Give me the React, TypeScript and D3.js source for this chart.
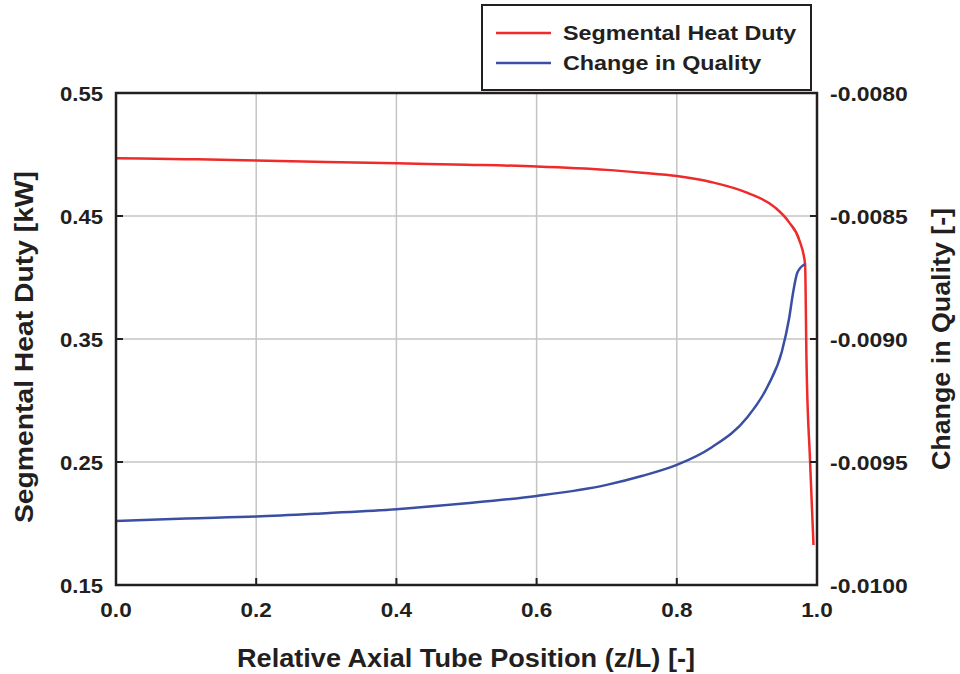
import React from "react";
import * as d3 from "d3";

const xTicks = [0, 0.2, 0.4, 0.6, 0.8, 1.0];
const yLeftTicks = [0.15, 0.25, 0.35, 0.45, 0.55];
const yRightTicks = [-0.01, -0.0095, -0.009, -0.0085, -0.008];

const heatX = [0, 0.1, 0.2, 0.3, 0.4, 0.5, 0.6, 0.7, 0.75, 0.8, 0.85, 0.9, 0.94, 0.96, 0.975, 0.983, 0.985, 0.99, 0.995];
const heatY = [0.497, 0.4962, 0.4952, 0.494, 0.4928, 0.4917, 0.4903, 0.4875, 0.4852, 0.4825, 0.4775, 0.469, 0.457, 0.445, 0.43, 0.411, 0.333, 0.252, 0.1825];

const qualX = [0, 0.1, 0.2, 0.3, 0.4, 0.5, 0.6, 0.7, 0.75, 0.8, 0.85, 0.9, 0.93, 0.95, 0.96, 0.966, 0.972, 0.983];
const qualY = [-0.00974, -0.00973, -0.009722, -0.009708, -0.009692, -0.009668, -0.009638, -0.009593, -0.009557, -0.009512, -0.00944, -0.00932, -0.00919, -0.00905, -0.00892, -0.00881, -0.00873, -0.008695];

const seriesNames = ["Segmental Heat Duty", "Change in Quality"];
const seriesColors = ["#ee2a2a", "#3a4fa3"];

const L = 116, R = 817, T = 93, B = 585;
const FONT = "'Liberation Sans', Arial, sans-serif";
const TXT = "#231f20";

function T2({ x, y, sx, size, anchor, children }: { x: number; y: number; sx: number; size: number; anchor: string; children: React.ReactNode }) {
  return (
    <text transform={`translate(${x},${y}) scale(${sx},1)`} textAnchor={anchor} fontSize={size} fontWeight="bold" fill={TXT}>
      {children}
    </text>
  );
}

export default function App() {
  const x = d3.scaleLinear().domain([0, 1]).range([L, R]);
  const yL = d3.scaleLinear().domain([0.15, 0.55]).range([B, T]);
  const yR = d3.scaleLinear().domain([-0.01, -0.008]).range([B, T]);

  const heatLine = d3.line<number>()
    .x((_, i) => x(heatX[i]))
    .y((v) => yL(v))
    .curve(d3.curveMonotoneX);
  const qualLine = d3.line<number>()
    .x((_, i) => x(qualX[i]))
    .y((v) => yR(v))
    .curve(d3.curveMonotoneX);

  return (
    <svg width={960} height={674} style={{ position: "absolute", left: 0, top: 0, background: "#fff" }} fontFamily={FONT}>
      <rect x={0} y={0} width={960} height={674} fill="#fff" />
      {/* grid */}
      {xTicks.slice(1, -1).map((t) => (
        <line key={"gx" + t} x1={x(t)} x2={x(t)} y1={T} y2={B} stroke="#c4c4c4" strokeWidth={1.5} />
      ))}
      {yLeftTicks.slice(1, -1).map((t) => (
        <line key={"gy" + t} x1={L} x2={R} y1={yL(t)} y2={yL(t)} stroke="#c4c4c4" strokeWidth={1.5} />
      ))}
      {/* lines */}
      <path d={heatLine(heatY) || ""} fill="none" stroke={seriesColors[0]} strokeWidth={2.5} />
      <path d={qualLine(qualY) || ""} fill="none" stroke={seriesColors[1]} strokeWidth={2.5} />
      {/* frame */}
      <rect x={L} y={T} width={R - L} height={B - T} fill="none" stroke={TXT} strokeWidth={2.5} />
      {/* ticks */}
      {xTicks.map((t) => (
        <g key={"xt" + t}>
          <line x1={x(t)} x2={x(t)} y1={B} y2={B - 7} stroke={TXT} strokeWidth={2} />
          <T2 x={x(t)} y={617} sx={1.1} size={20.5} anchor="middle">{t.toFixed(1)}</T2>
        </g>
      ))}
      {yLeftTicks.map((t) => (
        <g key={"yl" + t}>
          <line x1={L} x2={L + 7} y1={yL(t)} y2={yL(t)} stroke={TXT} strokeWidth={2} />
          <T2 x={103} y={yL(t) + 7.5} sx={1.08} size={20.5} anchor="end">{t.toFixed(2)}</T2>
        </g>
      ))}
      {yRightTicks.map((t) => (
        <g key={"yr" + t}>
          <line x1={R} x2={R - 7} y1={yR(t)} y2={yR(t)} stroke={TXT} strokeWidth={2} />
          <T2 x={830} y={yR(t) + 7.5} sx={1.12} size={20.5} anchor="start">{t.toFixed(4)}</T2>
        </g>
      ))}
      {/* axis titles */}
      <text x={466} y={667} textAnchor="middle" fontSize={25} fontWeight="bold" fill={TXT} textLength={458} lengthAdjust="spacingAndGlyphs">Relative Axial Tube Position (z/L) [-]</text>
      <text transform={`translate(33,347) rotate(-90)`} textAnchor="middle" fontSize={25} fontWeight="bold" fill={TXT} textLength={352} lengthAdjust="spacingAndGlyphs">Segmental Heat Duty [kW]</text>
      <text transform={`translate(950,339) rotate(-90)`} textAnchor="middle" fontSize={25} fontWeight="bold" fill={TXT} textLength={262} lengthAdjust="spacingAndGlyphs">Change in Quality [-]</text>
      {/* legend */}
      <rect x={482} y={5} width={329} height={85} fill="#fff" stroke={TXT} strokeWidth={2} />
      {seriesNames.map((n, i) => (
        <g key={n}>
          <line x1={496} x2={551} y1={33 + i * 30} y2={33 + i * 30} stroke={seriesColors[i]} strokeWidth={2.5} />
          <T2 x={563} y={33 + i * 30 + 6.5} sx={1.166} size={20} anchor="start">{n}</T2>
        </g>
      ))}
    </svg>
  );
}
